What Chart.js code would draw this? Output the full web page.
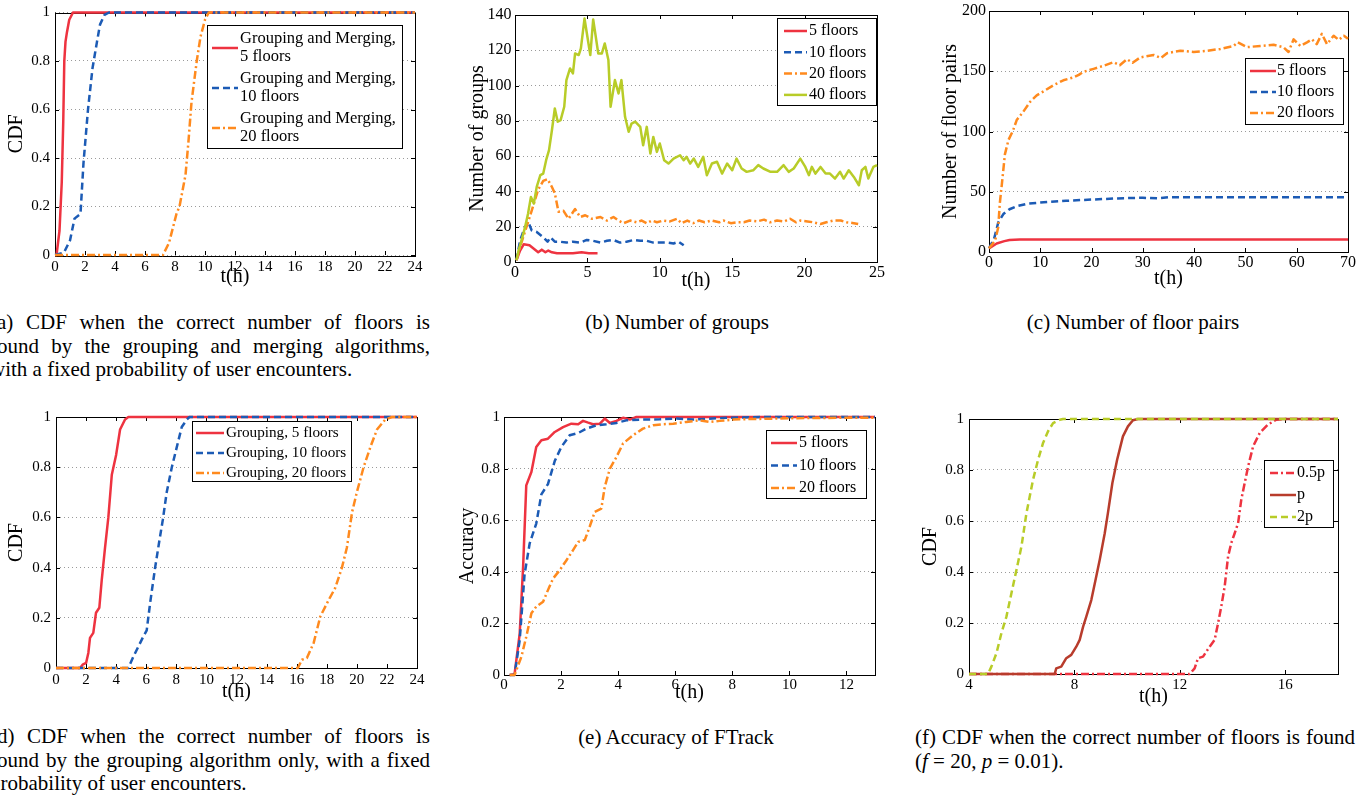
<!DOCTYPE html>
<html>
<head>
<meta charset="utf-8">
<script src="https://cdn.jsdelivr.net/npm/chart.js@4.4.1/dist/chart.umd.min.js"></script>
<style>
html, body { margin: 0; padding: 0; background: #fff; }
body { position: relative; width: 1368px; height: 795px; overflow: hidden; }
canvas { position: absolute; }
.cap { position: absolute; font-family: 'Liberation Serif', serif; font-size: 21px; line-height: 23.5px; color: #000; }
.j { text-align: justify; text-align-last: justify; }
.c { text-align: center; }
</style>
</head>
<body>
<canvas id="chartA"></canvas>
<canvas id="chartB"></canvas>
<canvas id="chartC"></canvas>
<canvas id="chartD"></canvas>
<canvas id="chartE"></canvas>
<canvas id="chartF"></canvas>

<div class="cap" style="left:-10px; top:311px; width:440px;">
	<div class="j">(a) CDF when the correct number of floors is</div>
	<div class="j">found by the grouping and merging algorithms,</div>
	<div>with a fixed probability of user encounters.</div>
</div>
<div class="cap c" style="left:477px; top:311px; width:400px;">(b) Number of groups</div>
<div class="cap c" style="left:933px; top:311px; width:400px;">(c) Number of floor pairs</div>
<div class="cap" style="left:-10px; top:725px; width:440px;">
	<div class="j">(d) CDF when the correct number of floors is</div>
	<div class="j">found by the grouping algorithm only, with a fixed</div>
	<div>probability of user encounters.</div>
</div>
<div class="cap c" style="left:476px; top:726px; width:400px;">(e) Accuracy of FTrack</div>
<div class="cap" style="left:915px; top:726px; width:440px;">
	<div class="j">(f) CDF when the correct number of floors is found</div>
	<div>(<i>f</i> = 20, <i>p</i> = 0.01).</div>
</div>

<script>
// (a) grouping and merging, CDF vs t(h)
const a5 = [[0, 0], [0.1, 0], [0.3, 0.1], [0.45, 0.3], [0.55, 0.55], [0.62, 0.8], [0.7, 0.88], [0.8, 0.92], [0.95, 0.97], [1.2, 1], [24, 1]];
const a10 = [[0, 0], [0.6, 0.01], [1.0, 0.06], [1.3, 0.15], [1.7, 0.17], [1.9, 0.38], [2.2, 0.6], [2.5, 0.77], [2.8, 0.88], [3.0, 0.95], [3.3, 0.99], [3.6, 1], [24, 1]];
const a20 = [[0, 0], [7.2, 0], [7.6, 0.05], [8.1, 0.17], [8.3, 0.2], [8.7, 0.33], [8.9, 0.47], [9.1, 0.63], [9.45, 0.8], [9.7, 0.9], [10.0, 0.97], [10.25, 1], [24, 1]];

// (b) number of groups
const b5 = [[0.1, 1], [0.35, 6.5], [0.6, 10], [1.0, 9.5], [1.3, 7.5], [1.6, 5.5], [1.85, 7], [2.1, 5.5], [2.3, 6.5], [2.55, 5.5], [2.9, 5], [3.3, 5], [4.0, 5], [4.6, 5.5], [5.1, 5], [5.7, 5]];
const b10 = [[0.1, 1], [0.35, 12], [0.6, 18], [0.9, 23], [1.15, 18], [1.5, 17], [1.95, 14], [2.25, 11.5], [2.45, 14], [2.75, 11.5], [3.1, 11.5], [3.55, 11], [4.0, 11.5], [4.5, 11], [4.95, 12.5], [5.4, 12], [5.9, 11], [6.35, 12], [6.8, 12.5], [7.25, 11], [7.7, 11.5], [8.2, 12.5], [8.65, 12], [9.1, 12], [9.55, 11], [10.0, 11], [10.5, 11], [10.95, 10.5], [11.3, 11.5], [11.65, 9.5]];
const b20 = [[0.1, 1], [0.35, 8.5], [0.8, 20], [1.15, 29], [1.6, 41], [1.95, 46], [2.25, 47], [2.55, 42.5], [2.75, 39], [3.0, 28.5], [3.35, 29], [3.7, 24.5], [4.15, 30], [4.5, 25.5], [4.85, 26.5], [5.3, 24.5], [5.9, 25.5], [6.35, 23.5], [6.8, 25.5], [7.15, 23.5], [7.5, 22], [7.95, 23.5], [8.4, 22.5], [8.75, 23.5], [9.1, 22], [9.45, 23.5], [9.8, 22.5], [10.25, 23.5], [10.7, 23], [11.2, 24.5], [11.5, 22], [11.9, 23.5], [12.3, 22], [12.7, 23.5], [13.1, 22.5], [13.6, 23.5], [14.1, 22.5], [14.4, 23.5], [14.9, 22], [15.3, 22.5], [15.8, 22.5], [16.2, 23.5], [16.7, 23], [17.2, 24], [17.6, 22.5], [18.1, 23.5], [18.6, 23], [19.0, 24.5], [19.4, 22.5], [19.7, 23.5], [20.2, 23], [20.6, 22.5], [21.1, 21.5], [21.5, 22.5], [22.0, 23.5], [22.5, 23.5], [22.9, 22.5], [23.4, 22], [23.7, 21.5]];
const b40 = [[0.1, 1], [0.25, 6.6], [0.45, 12.3], [0.7, 19.9], [0.9, 27.4], [1.1, 36.9], [1.3, 33.1], [1.5, 42.6], [1.75, 49.2], [1.95, 50.1], [2.15, 57.7], [2.35, 63.4], [2.55, 74.7], [2.75, 87], [2.95, 79.5], [3.15, 80.4], [3.4, 88], [3.55, 103.1], [3.8, 109.7], [4.0, 106.9], [4.15, 118.2], [4.4, 117.3], [4.55, 121.1], [4.8, 138], [5.2, 117.3], [5.4, 137.5], [5.75, 118.2], [6.0, 118.2], [6.2, 123.9], [6.45, 114.5], [6.6, 88], [6.9, 103.1], [7.15, 95.5], [7.35, 103.1], [7.6, 82.3], [7.85, 73.8], [8.05, 78.5], [8.3, 79.5], [8.65, 76.6], [8.85, 66.2], [9.1, 76.6], [9.35, 61.5], [9.55, 70.9], [9.8, 62.4], [10.0, 67.2], [10.3, 57.7], [10.6, 55.8], [10.95, 58.6], [11.4, 60.5], [11.65, 57.7], [11.85, 59.6], [12.1, 55.8], [12.35, 58.6], [12.65, 53.9], [13.0, 59.6], [13.25, 49.2], [13.6, 55.8], [13.95, 56.8], [14.3, 50.1], [14.65, 55.8], [15.0, 52], [15.3, 58.6], [15.65, 53], [16.0, 51.1], [16.45, 52], [16.8, 54.9], [17.15, 53], [17.65, 51.1], [18.1, 51.1], [18.55, 54.9], [18.9, 51.1], [19.25, 53], [19.7, 58.6], [20.05, 53.9], [20.3, 49.2], [20.5, 53.9], [20.75, 50.1], [21.1, 53.9], [21.45, 50.1], [21.75, 50.1], [22.1, 47.3], [22.45, 51.1], [22.7, 47.3], [23.05, 52], [23.4, 48.2], [23.75, 43.5], [23.95, 52], [24.2, 53.9], [24.4, 47.3], [24.75, 53.9], [25, 54.9]];

// (c) number of floor pairs
const c5 = [[0, 3], [1.5, 7], [3, 9], [4, 10], [6, 10.4], [70, 10.4]];
const c10 = [[0, 3], [1, 11], [1.8, 24.5], [2.8, 31.5], [4, 35.5], [5.4, 38], [7.4, 40], [10, 41], [15, 42.5], [20, 43.5], [25, 44.5], [30, 45], [33, 44.5], [35, 45.5], [40, 45.5], [70, 45.5]];
const c20 = [[0, 3], [1.2, 9.5], [1.8, 20.5], [2.1, 40], [2.5, 56], [3.1, 81], [3.8, 93], [4.7, 101], [5.4, 109.5], [6.7, 116.5], [8, 124.5], [9.3, 130], [10.9, 134], [12.6, 138.5], [14.5, 142.5], [16.5, 145], [17.5, 147], [18.4, 149.5], [20.4, 152], [22.3, 154.5], [24.3, 157.5], [25.5, 155], [26.9, 160], [28, 157], [29.5, 161.5], [32.1, 163.5], [33.5, 161], [34.7, 165], [37.3, 167], [39.9, 166], [42.5, 167], [45.1, 168.5], [47.7, 171], [48.5, 174], [50.3, 170], [52.9, 171], [55.5, 172], [57.4, 170], [58.4, 166], [59.4, 176.5], [60.7, 171], [62, 174], [63, 176.5], [63.9, 172.5], [64.9, 181], [65.9, 172.5], [67.2, 179.5], [68.2, 176], [69.2, 179.5], [70, 177]];

// (d) grouping only, CDF
const d5 = [[0, 0], [1.6, 0], [1.77, 0.013], [2.0, 0.02], [2.15, 0.06], [2.26, 0.12], [2.48, 0.14], [2.66, 0.22], [2.88, 0.24], [3.04, 0.35], [3.26, 0.48], [3.48, 0.6], [3.71, 0.77], [4.0, 0.85], [4.26, 0.95], [4.59, 0.99], [4.81, 1], [24, 1]];
const d10 = [[0, 0], [4.81, 0], [5.15, 0.046], [5.48, 0.086], [5.81, 0.126], [6.03, 0.15], [6.26, 0.26], [6.59, 0.4], [6.88, 0.51], [7.1, 0.59], [7.36, 0.7], [7.7, 0.8], [8.03, 0.88], [8.36, 0.96], [8.7, 0.99], [8.87, 1], [24, 1]];
const d20 = [[0, 0], [16.08, 0], [16.35, 0.033], [16.68, 0.04], [17.13, 0.1], [17.57, 0.205], [18.12, 0.27], [18.57, 0.32], [19.01, 0.4], [19.34, 0.48], [19.68, 0.62], [20.0, 0.7], [20.45, 0.8], [20.9, 0.88], [21.34, 0.95], [21.89, 0.99], [22.34, 1], [24, 1]];

// (e) accuracy
const e5 = [[0.2, 0], [0.37, 0.003], [0.55, 0.16], [0.67, 0.42], [0.78, 0.735], [0.96, 0.787], [1.13, 0.884], [1.31, 0.91], [1.54, 0.916], [1.78, 0.942], [2.07, 0.961], [2.36, 0.974], [2.6, 0.972], [2.77, 0.985], [2.95, 0.978], [3.12, 0.972], [3.36, 0.974], [3.53, 0.994], [3.71, 0.977], [3.94, 0.985], [4.17, 0.997], [4.41, 0.99], [4.64, 1], [13, 1]];
const e10 = [[0.2, 0], [0.37, 0], [0.55, 0.135], [0.72, 0.39], [0.9, 0.51], [1.13, 0.587], [1.31, 0.7], [1.54, 0.74], [1.78, 0.83], [2.01, 0.884], [2.3, 0.929], [2.6, 0.938], [2.89, 0.955], [3.24, 0.968], [3.59, 0.972], [3.94, 0.977], [4.29, 0.987], [4.87, 0.99], [5.46, 0.991], [6.04, 0.994], [6.63, 0.99], [7.8, 0.997], [8.97, 1], [13, 1]];
const e20 = [[0.2, 0], [0.37, 0], [0.61, 0.071], [0.78, 0.148], [0.96, 0.239], [1.13, 0.265], [1.37, 0.284], [1.54, 0.329], [1.72, 0.374], [1.95, 0.406], [2.19, 0.445], [2.42, 0.484], [2.6, 0.516], [2.83, 0.523], [3.0, 0.574], [3.18, 0.632], [3.41, 0.645], [3.53, 0.729], [3.71, 0.8], [3.94, 0.845], [4.17, 0.897], [4.52, 0.929], [4.87, 0.955], [5.23, 0.968], [5.58, 0.972], [5.93, 0.974], [6.39, 0.981], [6.86, 0.987], [7.21, 0.981], [7.56, 0.985], [8.03, 0.99], [8.62, 0.992], [9.55, 0.994], [10.72, 0.996], [11.89, 0.997], [13, 0.997]];

// (f) CDF for different encounter probabilities
const fHalf = [[4, 0], [12.37, 0], [12.56, 0.022], [12.69, 0.062], [12.88, 0.068], [13.13, 0.107], [13.32, 0.134], [13.45, 0.199], [13.57, 0.264], [13.7, 0.343], [13.83, 0.461], [13.95, 0.513], [14.08, 0.552], [14.21, 0.592], [14.33, 0.683], [14.46, 0.749], [14.59, 0.814], [14.78, 0.893], [15.03, 0.945], [15.34, 0.978], [15.66, 0.997], [15.91, 1], [18, 1]];
const fOne = [[4, 0], [7.25, 0], [7.31, 0.022], [7.5, 0.029], [7.69, 0.062], [7.88, 0.075], [8.07, 0.107], [8.2, 0.134], [8.33, 0.186], [8.45, 0.225], [8.64, 0.29], [8.8, 0.369], [8.96, 0.448], [9.15, 0.552], [9.27, 0.631], [9.44, 0.749], [9.62, 0.84], [9.84, 0.932], [10.03, 0.971], [10.22, 0.995], [10.41, 1], [18, 1]];
const fTwo = [[4, 0], [4.72, 0], [4.85, 0.029], [5.04, 0.081], [5.23, 0.16], [5.42, 0.225], [5.61, 0.317], [5.8, 0.408], [5.99, 0.5], [6.18, 0.631], [6.43, 0.762], [6.62, 0.84], [6.81, 0.906], [7.0, 0.952], [7.19, 0.984], [7.44, 0.997], [7.57, 1], [18, 1]];

const RED = '#ee3340';
const BLUE = '#1c5bb5';
const ORANGE = '#ff8a1e';
const GREEN = '#b8cc28';
const DARKRED = '#b83c2c';
const SOLID = [];
const DASH = [7, 4];
const DASHDOT = [8, 3, 2, 3];
const TITLE = 20;

Chart.defaults.font.family = "'Liberation Serif', serif";
Chart.defaults.color = '#000';

// matlab style box with inner tick marks
const frame = {
	id: 'frame',
	beforeDatasetsDraw: (chart) => {
		const {ctx, chartArea: a, scales} = chart;
		ctx.save();
		ctx.strokeStyle = '#000';
		ctx.lineWidth = 1;
		ctx.beginPath();
		scales.x.ticks.forEach(t => {
			const px = Math.round(scales.x.getPixelForValue(t.value)) + 0.5;
			ctx.moveTo(px, a.bottom); ctx.lineTo(px, a.bottom - 4);
			ctx.moveTo(px, a.top); ctx.lineTo(px, a.top + 4);
		});
		scales.y.ticks.forEach(t => {
			const py = Math.round(scales.y.getPixelForValue(t.value)) + 0.5;
			ctx.moveTo(a.left, py); ctx.lineTo(a.left + 4, py);
			ctx.moveTo(a.right, py); ctx.lineTo(a.right - 4, py);
		});
		ctx.stroke();
		ctx.strokeRect(Math.round(a.left) + 0.5, Math.round(a.top) + 0.5, Math.round(a.right - a.left), Math.round(a.bottom - a.top));
		ctx.restore();
	}
};

const legendBox = {
	id: 'legendBox',
	afterDraw: (chart, args, o) => {
		const {ctx} = chart;
		const [ox, oy] = o.origin;
		const [x0, y0, x1, y1] = o.box;
		ctx.save();
		ctx.translate(-ox, -oy);
		ctx.fillStyle = '#fff';
		ctx.fillRect(x0, y0, x1 - x0, y1 - y0);
		ctx.strokeStyle = '#000';
		ctx.lineWidth = 1;
		ctx.strokeRect(x0 + 0.5, y0 + 0.5, x1 - x0, y1 - y0);
		ctx.font = (o.size || 16) + "px 'Liberation Serif'";
		ctx.textBaseline = 'middle';
		chart.data.datasets.forEach((ds, i) => {
			const cy = o.firstY + i * o.rowH;
			ctx.strokeStyle = ds.borderColor;
			ctx.lineWidth = ds.borderWidth;
			ctx.setLineDash(ds.borderDash);
			ctx.beginPath();
			ctx.moveTo(o.sx[0], cy);
			ctx.lineTo(o.sx[1], cy);
			ctx.stroke();
			ctx.setLineDash([]);
			ctx.fillStyle = '#000';
			const lines = ds.label.split('\n');
			lines.forEach((ln, j) => {
				ctx.fillText(ln, o.tx, cy + (j - (lines.length - 1) / 2) * o.lineGap);
			});
		});
		ctx.restore();
	}
};

function buildChart(id, g, xs, ys, yTitle, sets, leg) {
	const L = g.yTitleX - TITLE / 2;
	const B = g.xTitleY + TITLE / 2;
	const canvas = document.getElementById(id);
	canvas.width = g.right - L;
	canvas.height = B - g.top;
	canvas.style.left = L + 'px';
	canvas.style.top = g.top + 'px';
	const tickFont = {size: g.tick || 15, lineHeight: 1};
	const titleFont = {size: TITLE, lineHeight: 1};
	leg.origin = [L, g.top];
	return new Chart(canvas.getContext('2d'), {
		type: 'line',
		data: {
			datasets: sets.map((s, i) => ({
				label: s.label,
				data: s.pts.map(p => ({x: p[0], y: p[1]})),
				borderColor: s.color,
				borderWidth: 2.5,
				borderDash: s.dash,
				borderJoinStyle: 'round',
				pointRadius: 0,
				tension: 0,
				fill: false,
				clip: false,
				order: sets.length - i
			}))
		},
		options: {
			responsive: false,
			animation: false,
			devicePixelRatio: 1,
			layout: {
				padding: {top: g.t - g.top, right: g.right - g.r, left: 0, bottom: 0}
			},
			scales: {
				x: {
					type: 'linear',
					min: xs.min,
					max: xs.max,
					ticks: {stepSize: xs.step, includeBounds: false, autoSkip: false, maxRotation: 0, padding: g.xPad, font: tickFont},
					grid: {display: false, drawTicks: false},
					border: {display: false},
					title: {display: true, text: 't(h)', font: titleFont, padding: 0},
					afterFit: (s) => { s.height = B - g.b; }
				},
				y: {
					min: ys.min,
					max: ys.max,
					ticks: {
						stepSize: ys.step,
						padding: g.yPad,
						font: tickFont,
						callback: (v) => String(Number(v.toFixed(2)))
					},
					grid: {color: '#9a9a9a', drawTicks: false, borderDash: [1, 3]},
					border: {display: false, dash: [1, 3]},
					title: {display: true, text: yTitle, font: titleFont, padding: 0},
					afterFit: (s) => { s.width = g.l - L; }
				}
			},
			plugins: {
				legend: {display: false},
				tooltip: {enabled: false},
				legendBox: leg
			}
		},
		plugins: [frame, legendBox]
	});
}

buildChart('chartA',
	{l: 55, t: 10, r: 415, b: 255, yTitleX: 17, xTitleY: 277, top: 0, right: 430, xPad: 5, yPad: 5},
	{min: 0, max: 24, step: 2}, {min: 0, max: 1, step: 0.2}, 'CDF',
	[
		{label: 'Grouping and Merging,\n5 floors', pts: a5, color: RED, dash: SOLID},
		{label: 'Grouping and Merging,\n10 floors', pts: a10, color: BLUE, dash: DASH},
		{label: 'Grouping and Merging,\n20 floors', pts: a20, color: ORANGE, dash: DASHDOT}
	],
	{box: [207, 25, 402, 148], firstY: 48, rowH: 40, lineGap: 18, sx: [212, 238], tx: 240, size: 16.5}
);

buildChart('chartB',
	{l: 515, t: 15, r: 877, b: 262, yTitleX: 478, xTitleY: 281, top: 0, right: 890, xPad: 2.5, yPad: 3.5, tick: 16},
	{min: 0, max: 25, step: 5}, {min: 0, max: 140, step: 20}, 'Number of groups',
	[
		{label: '5 floors', pts: b5, color: RED, dash: SOLID},
		{label: '10 floors', pts: b10, color: BLUE, dash: DASH},
		{label: '20 floors', pts: b20, color: ORANGE, dash: DASHDOT},
		{label: '40 floors', pts: b40, color: GREEN, dash: SOLID}
	],
	{box: [777, 18, 876, 105], firstY: 31, rowH: 21.3, lineGap: 18, sx: [784, 807], tx: 809, size: 16}
);

buildChart('chartC',
	{l: 989, t: 8, r: 1348, b: 252, yTitleX: 951, xTitleY: 279, top: 0, right: 1368, xPad: 3, yPad: 3, tick: 16},
	{min: 0, max: 70, step: 10}, {min: 0, max: 200, step: 50}, 'Number of floor pairs',
	[
		{label: '5 floors', pts: c5, color: RED, dash: SOLID},
		{label: '10 floors', pts: c10, color: BLUE, dash: DASH},
		{label: '20 floors', pts: c20, color: ORANGE, dash: DASHDOT}
	],
	{box: [1245, 58, 1343, 124], firstY: 71, rowH: 21, lineGap: 18, sx: [1250, 1276], tx: 1277, size: 16}
);

buildChart('chartD',
	{l: 56, t: 417, r: 417, b: 668, yTitleX: 17, xTitleY: 692, top: 400, right: 432, xPad: 4.5, yPad: 5},
	{min: 0, max: 24, step: 2}, {min: 0, max: 1, step: 0.2}, 'CDF',
	[
		{label: 'Grouping, 5 floors', pts: d5, color: RED, dash: SOLID},
		{label: 'Grouping, 10 floors', pts: d10, color: BLUE, dash: DASH},
		{label: 'Grouping, 20 floors', pts: d20, color: ORANGE, dash: DASHDOT}
	],
	{box: [192, 421, 351, 481], firstY: 433, rowH: 20, lineGap: 18, sx: [196, 224], tx: 226, size: 15.2}
);

buildChart('chartE',
	{l: 504, t: 417, r: 875, b: 675, yTitleX: 468, xTitleY: 693, top: 400, right: 890, xPad: 3, yPad: 4},
	{min: 0, max: 13, step: 2}, {min: 0, max: 1, step: 0.2}, 'Accuracy',
	[
		{label: '5 floors', pts: e5, color: RED, dash: SOLID},
		{label: '10 floors', pts: e10, color: BLUE, dash: DASH},
		{label: '20 floors', pts: e20, color: ORANGE, dash: DASHDOT}
	],
	{box: [766, 430, 866, 498], firstY: 443, rowH: 22.5, lineGap: 18, sx: [771, 797], tx: 799, size: 16}
);

buildChart('chartF',
	{l: 969, t: 419, r: 1338, b: 674, yTitleX: 931, xTitleY: 697, top: 400, right: 1368, xPad: 3.5, yPad: 5},
	{min: 4, max: 18, step: 4}, {min: 0, max: 1, step: 0.2}, 'CDF',
	[
		{label: '0.5p', pts: fHalf, color: RED, dash: DASHDOT},
		{label: 'p', pts: fOne, color: DARKRED, dash: SOLID},
		{label: '2p', pts: fTwo, color: GREEN, dash: DASH}
	],
	{box: [1264, 460, 1333, 527], firstY: 473, rowH: 22, lineGap: 18, sx: [1270, 1296], tx: 1297, size: 16}
);
</script>
</body>
</html>
